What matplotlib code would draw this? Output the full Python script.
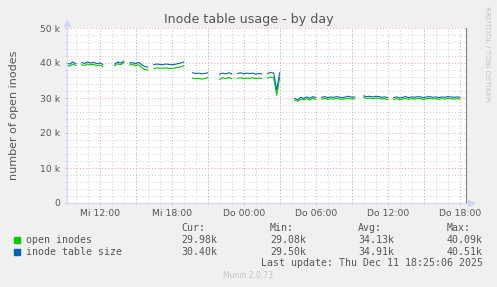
import numpy as np
import matplotlib
matplotlib.use('Agg')
import matplotlib.pyplot as plt
from matplotlib.ticker import MultipleLocator
from matplotlib.patches import Rectangle


"""1. Data (read off the munin graph, values in thousands) """

# one sample every 15 minutes, starting Wed 09:15 (hours since Wed 00:00)
t_start = 9.25
t_step = 0.25
t_end = 42.5

open_inodes = [
    39.4, 39.1, 39.7, 39.3, None, 39.5, 39.3, 39.7, 39.5, 39.6,
    39.2, 39.4, 39.0, None, None, None, 39.2, 39.8, 39.5, 40.09,
    None, 39.4, 39.6, 39.2, 39.5, 38.7, 38.2, 38.0, None, 38.4,
    38.6, 38.5, 38.5, 38.6, 38.5, 38.4, 38.6, 38.7, 38.9, 39.2,
    None, None, 35.7, 35.5, 35.6, 35.4, 35.6, 35.8, None, None,
    None, 35.3, 35.8, 35.5, 35.9, 35.5, None, 35.6, 35.8, 35.5,
    35.7, 35.6, 35.8, 35.5, 35.7, 35.6, None, 35.7, 36.0, 35.8,
    30.8, 35.9, None, None, 29.6, None, 29.4, 29.08, 29.7, 29.5,
    29.8, 29.4, 29.9, 29.6, None, 29.7, 29.9, 29.6, 29.8, 29.7,
    29.9, 29.7, 29.6, 29.8, 29.9, 29.7, 29.8, None, None, 30.1,
    29.9, 30.0, 29.8, 30.0, 29.9, 29.7, 29.8, 29.6, None, 29.6,
    29.8, 29.5, 29.7, 29.9, 29.6, 29.8, 29.7, 29.9, 29.8, 29.6,
    29.8, 29.9, 29.7, 29.8, 29.6, 29.8, 29.7, 29.9, 29.8, 29.7,
    29.8, 29.7, None, 29.98]

table_size = [
    40.0, 39.7, 40.3, 39.8, None, 40.1, 39.9, 40.3, 40.0, 40.2,
    39.8, 40.0, 39.6, None, None, None, 39.7, 40.3, 40.0, 40.51,
    None, 40.0, 40.1, 39.8, 40.2, 39.5, 39.0, 38.8, None, 39.5,
    39.7, 39.6, 39.5, 39.7, 39.6, 39.5, 39.6, 39.8, 40.0, 40.3,
    None, None, 37.2, 37.0, 37.1, 36.9, 37.0, 37.2, None, None,
    None, 36.8, 37.1, 36.9, 37.2, 36.9, None, 37.0, 37.2, 36.9,
    37.1, 37.0, 37.1, 36.8, 37.0, 36.9, None, 37.0, 37.3, 37.1,
    32.3, 37.2, None, None, 30.1, None, 29.9, 29.5, 30.2, 29.9,
    30.3, 29.9, 30.4, 30.1, None, 30.2, 30.4, 30.1, 30.3, 30.2,
    30.4, 30.2, 30.1, 30.3, 30.5, 30.2, 30.3, None, None, 30.6,
    30.4, 30.5, 30.3, 30.5, 30.4, 30.2, 30.3, 30.1, None, 30.1,
    30.3, 30.0, 30.2, 30.4, 30.1, 30.3, 30.2, 30.4, 30.3, 30.1,
    30.3, 30.4, 30.2, 30.3, 30.1, 30.3, 30.2, 30.4, 30.3, 30.2,
    30.3, 30.2, None, 30.40]

day_ticks = [12, 18, 24, 30, 36, 42]
day_labels = ['Mi 12:00', 'Mi 18:00', 'Do 00:00', 'Do 06:00', 'Do 12:00', 'Do 18:00']

y_ticks = [0, 10, 20, 30, 40, 50]
y_labels = ['0', '10 k', '20 k', '30 k', '40 k', '50 k']

legend_names = ['open inodes', 'inode table size']
legend_colors = ['#00CC00', '#0066B3']
stat_heads = ['Cur:', 'Min:', 'Avg:', 'Max:']
stats_open = ['29.98k', '29.08k', '34.13k', '40.09k']
stats_size = ['30.40k', '29.50k', '34.91k', '40.51k']
last_update = 'Last update: Thu Dec 11 18:25:06 2025'


"""2. Figure """

W, H = 497, 287
txt = '#555555'
axis_col = '#CFD6F8'
mgrid = '#EDA9A9'
grid = '#D2D2D2'

fig = plt.figure(figsize=(W / 100, H / 100), dpi=100, facecolor='#F0F0F0')
ax = fig.add_axes([66.7 / W, 1 - 203 / H, 399 / W, 175 / H], facecolor='white')

hours = t_start + t_step * np.arange(len(open_inodes))
ax.plot(hours, np.array(open_inodes, dtype=float), color=legend_colors[0], lw=0.8)
ax.plot(hours, np.array(table_size, dtype=float), color=legend_colors[1], lw=0.8)

ax.set_xlim(t_start, t_end)
ax.set_ylim(0, 50)

ax.set_xticks(day_ticks, day_labels)
ax.xaxis.set_minor_locator(MultipleLocator(1))
ax.set_yticks(y_ticks, y_labels)
ax.yaxis.set_minor_locator(MultipleLocator(2))

# grid: grey every hour / 2k, red every 3 hours / 10k
for h in np.arange(0, 45, 3):
    if t_start < h < t_end:
        ax.axvline(h, color=mgrid, lw=0.75, ls=(0, (1, 2)), zorder=1)
ax.grid(which='minor', color=grid, lw=0.75, ls=(0, (1, 2)))
ax.grid(which='major', axis='y', color=mgrid, lw=0.75, ls=(0, (1, 2)))
ax.set_axisbelow(True)

ax.tick_params(axis='both', which='major', labelsize=6.7, labelcolor=txt,
               length=1.5, width=0.7, color=mgrid)
ax.tick_params(axis='both', which='minor', length=1.5, width=0.7, color=grid)
ax.tick_params(axis='x', pad=2.5)
ax.tick_params(axis='y', pad=3.5)

ax.spines['top'].set_visible(False)
ax.spines['left'].set_color(axis_col)
ax.spines['bottom'].set_color(axis_col)
ax.spines['right'].set_color('#808080')
for s in ax.spines.values():
    s.set_linewidth(0.8)

# axis arrows
ax.plot([0], [1.026], marker='^', ms=5, color=axis_col, transform=ax.transAxes, clip_on=False)
ax.plot([1.014], [0], marker='>', ms=5, color=axis_col, transform=ax.transAxes, clip_on=False)

ax.set_ylabel('number of open inodes', fontsize=8, color=txt, labelpad=15)
fig.text(248.5 / W, 1 - 19.5 / H, 'Inode table usage - by day', fontsize=9.1,
         color=txt, ha='center', va='center')
fig.text(487 / W, 1 - 53.5 / H, 'RRDTOOL / TOBI OETIKER', fontsize=5.4,
         color='#C4C4C4', rotation=270, ha='center', va='center')


"""3. Legend block """

mono = dict(family='DejaVu Sans Mono', fontsize=7.1, color=txt, va='center')
col_x = [181.3, 270, 358.3, 446.7]

for x, head in zip(col_x, stat_heads):
    fig.text(x / W, 1 - 227.7 / H, head, **mono)

rows_y = [240, 251.7]
for y, name, colr, vals in zip(rows_y, legend_names, legend_colors, [stats_open, stats_size]):
    fig.patches.append(Rectangle((14 / W, 1 - (y + 3) / H), 6 / W, 6 / H,
                                 transform=fig.transFigure, color=colr))
    fig.text(26.3 / W, 1 - y / H, name, **mono)
    for x, v in zip(col_x, vals):
        fig.text(x / W, 1 - y / H, v, **mono)

fig.text(482.7 / W, 1 - 263.3 / H, last_update, ha='right', **mono)
fig.text(248 / W, 1 - 276 / H, 'Munin 2.0.73', fontsize=5.5, color='#C4C4C4',
         ha='center', va='center')

fig.savefig('out.png', dpi=100, facecolor=fig.get_facecolor())
plt.close(fig)
